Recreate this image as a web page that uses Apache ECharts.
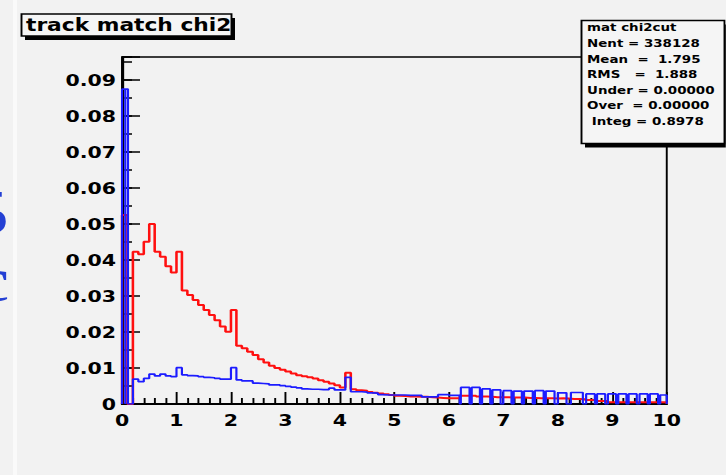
<!DOCTYPE html>
<html>
<head>
<meta charset="utf-8">
<script src="https://cdn.jsdelivr.net/npm/echarts@6/dist/echarts.min.js"></script>
<style>
  html, body { margin: 0; padding: 0; background: #f2f2f2; overflow: hidden; }
  #wrap { width: 726px; height: 475px; overflow: hidden; position: relative; background: #f2f2f2; }
  /* the ROOT canvas font is wide and blocky: the whole pad is stretched horizontally */
  #chart { width: 567.1875px; height: 475px; transform: scaleX(1.28); transform-origin: 0 0; }
</style>
</head>
<body>
<div id="wrap"><div id="chart"></div></div>
<script>
// ---- axis tick labels ----
const xTickLabels = ['0', '1', '2', '3', '4', '5', '6', '7', '8', '9', '10'];
const yTickLabels = ['0', '0.01', '0.02', '0.03', '0.04', '0.05', '0.06', '0.07', '0.08', '0.09'];

// ---- histogram contents ----
const binWidth = 0.1;

// red: 100 bins over [0, 10]
const redValues = [
  0.0525, 0.0000, 0.0423, 0.0416, 0.0451, 0.0500, 0.0423, 0.0409, 0.0383, 0.0365,
  0.0423, 0.0315, 0.0303, 0.0289, 0.0275, 0.0261, 0.0247, 0.0233, 0.0215, 0.0201,
  0.0261, 0.0162, 0.0155, 0.0145, 0.0136, 0.0124, 0.0115, 0.0106, 0.0100, 0.0095,
  0.0090, 0.0085, 0.0080, 0.0077, 0.0074, 0.0071, 0.0066, 0.0062, 0.0057, 0.0052,
  0.0046, 0.0087, 0.0041, 0.0038, 0.0037, 0.0033, 0.0031, 0.0029, 0.0027, 0.0025,
  0.0023, 0.0022, 0.0021, 0.0021, 0.0020, 0.0020, 0.0019, 0.0018, 0.0017, 0.0016,
  0.0016, 0.0016, 0.0023, 0.0023, 0.0023, 0.0021, 0.0021, 0.0020, 0.0019, 0.0019,
  0.0019, 0.0018, 0.0018, 0.0018, 0.0017, 0.0017, 0.0016, 0.0016, 0.0016, 0.0015,
  0.0016, 0.0015, 0.0014, 0.0014, 0.0013, 0.0011, 0.0011, 0.0008, 0.0008, 0.0005,
  0.0005, 0.0005, 0.0005, 0.0005, 0.0005, 0.0005, 0.0005, 0.0005, 0.0005, 0.0005
];

// blue: narrow spike bins at the origin, as [low, high, value]
const blueSpikeBins = [
  [0.00, 0.06, 0.0875],
  [0.06, 0.11, 0.0875]
];

// blue: regular bins from 0.1 to 6.2
const blueBodyStart = 0.1;
const blueBodyValues = [
  0.0000, 0.0069, 0.0062, 0.0071, 0.0083, 0.0078, 0.0083, 0.0078, 0.0076, 0.0101,
  0.0081, 0.0079, 0.0078, 0.0076, 0.0074, 0.0073, 0.0071, 0.0069, 0.0069, 0.0101,
  0.0067, 0.0064, 0.0064, 0.0058, 0.0057, 0.0056, 0.0053, 0.0053, 0.0051, 0.0049,
  0.0047, 0.0045, 0.0042, 0.0041, 0.0041, 0.0040, 0.0040, 0.0044, 0.0039, 0.0039,
  0.0074, 0.0034, 0.0034, 0.0033, 0.0031, 0.0030, 0.0026, 0.0025, 0.0025, 0.0025,
  0.0025, 0.0024, 0.0024, 0.0024, 0.0020, 0.0020, 0.0020, 0.0026, 0.0026, 0.0024,
  0.0024
];

// blue: separated bins of the tail, as [low, high, value]
const blueTailBins = [
  [6.22, 6.38, 0.0046], [6.42, 6.57, 0.0046], [6.61, 6.76, 0.0042], [6.80, 6.95, 0.0039],
  [7.00, 7.15, 0.0037], [7.19, 7.34, 0.0036], [7.38, 7.54, 0.0036], [7.58, 7.74, 0.0037],
  [7.78, 7.94, 0.0036], [8.00, 8.16, 0.0031], [8.24, 8.46, 0.0032], [8.52, 8.68, 0.0028],
  [8.72, 8.87, 0.0028], [8.92, 9.07, 0.0028], [9.11, 9.26, 0.0028], [9.30, 9.45, 0.0028],
  [9.50, 9.65, 0.0028], [9.69, 9.84, 0.0028], [9.88, 10.00, 0.0025]
];

// statistics box
const statsLines = [
  'mat chi2cut',
  'Nent = 338128',
  'Mean  =  1.795',
  'RMS   =  1.888',
  'Under = 0.00000',
  'Over  = 0.00000',
  ' Integ = 0.8978'
];
const titleText = 'track match chi2';

// ---- helpers: histogram outlines ----
const r2 = v => Math.round(v * 1000) / 1000;

function stepOutline(start, width, values) {
  const pts = [[r2(start), 0]];
  values.forEach((v, i) => {
    const lo = r2(start + i * width), hi = r2(start + (i + 1) * width);
    pts.push([lo, v], [hi, v]);
  });
  pts.push([r2(start + values.length * width), 0]);
  return pts;
}

function boxOutline(bins) {
  const pts = [];
  bins.forEach(([lo, hi, v]) => { pts.push([lo, 0], [lo, v], [hi, v], [hi, 0]); });
  return pts;
}

const redPoints = stepOutline(0, binWidth, redValues);
const bluePoints = [].concat(
  boxOutline(blueSpikeBins),
  stepOutline(blueBodyStart, binWidth, blueBodyValues),
  boxOutline(blueTailBins)
);

// ---- layout (pixels of the stretched pad) ----
const S = 1.28;
const px = x => x / S;
const FONT = 'DejaVu Sans';
const Y_MAX = 0.0964;

const chart = echarts.init(document.getElementById('chart'), null, { renderer: 'svg' });

const option = {
  backgroundColor: '#f2f2f2',
  animation: false,
  grid: {
    left: px(122), right: px(59), top: 57, bottom: 71,
    show: true, backgroundColor: '#f2f2f2', borderColor: '#000', borderWidth: 1.5
  },
  xAxis: {
    type: 'value', min: 0, max: 10, interval: 1,
    axisLine: { lineStyle: { color: '#000', width: 2 } },
    axisTick: { inside: true, length: 12, lineStyle: { color: '#000', width: 1.5 } },
    minorTick: { show: true, splitNumber: 5, length: 6, lineStyle: { color: '#000', width: 1.5 } },
    splitLine: { show: false },
    axisLabel: {
      margin: 8, color: '#000', fontFamily: FONT, fontWeight: 'bold', fontSize: 16,
      formatter: v => xTickLabels[Math.round(v)] ?? ''
    }
  },
  yAxis: [
    {
      type: 'value', min: 0, max: Y_MAX, interval: 0.01,
      axisLine: { lineStyle: { color: '#000', width: 2 } },
      axisTick: { inside: true, length: px(18), lineStyle: { color: '#000', width: 1.5 } },
      splitLine: { show: false },
      axisLabel: {
        margin: px(6), color: '#000', fontFamily: FONT, fontWeight: 'bold', fontSize: 16,
        formatter: v => {
          const k = Math.round(v * 100);
          return Math.abs(v * 100 - k) < 1e-6 ? (yTickLabels[k] ?? '') : '';
        }
      }
    },
    {
      // half-step ticks
      type: 'value', min: 0, max: Y_MAX, interval: 0.005, position: 'left',
      axisLine: { show: false },
      axisTick: { inside: true, length: px(10), lineStyle: { color: '#000', width: 1.5 } },
      axisLabel: { show: false },
      splitLine: { show: false }
    }
  ],
  series: [
    {
      name: 'red', type: 'line', data: redPoints, yAxisIndex: 0,
      symbol: 'none', lineStyle: { color: '#ff1010', width: 2 }, z: 3
    },
    {
      name: 'blue', type: 'line', data: bluePoints, yAxisIndex: 0,
      symbol: 'none', lineStyle: { color: '#1c1cff', width: 1.7 }, z: 4
    }
  ],
  graphic: [
    // light band near the left edge
    { type: 'rect', z: 100, shape: { x: px(13), y: 0, width: px(4), height: 475 }, style: { fill: '#fafafa' } },
    // glyphs of the slide behind the pad
    { type: 'text', z: 100, x: px(9), y: 213,
      style: { text: '5', font: '64px "Liberation Serif"', fill: '#2440d4', align: 'right', verticalAlign: 'middle' } },
    { type: 'text', z: 100, x: px(9.5), y: 280,
      style: { text: 'c', font: '64px "Liberation Serif"', fill: '#2440d4', align: 'right', verticalAlign: 'middle' } },
    // title box
    { type: 'rect', z: 100, shape: { x: px(25), y: 18, width: px(210), height: 22 }, style: { fill: '#000' } },
    { type: 'rect', z: 101, shape: { x: px(21.5), y: 14, width: px(210), height: 22 },
      style: { fill: '#f5f5f5', stroke: '#000', lineWidth: 1.5 } },
    { type: 'text', z: 102, x: px(26), y: 25.5,
      style: { text: titleText, font: 'bold 17px "DejaVu Sans"', fill: '#000', align: 'left', verticalAlign: 'middle' } },
    // statistics box
    { type: 'rect', z: 100, shape: { x: px(585), y: 24.5, width: px(145), height: 123 }, style: { fill: '#000' } },
    { type: 'rect', z: 101, shape: { x: px(581.5), y: 20.5, width: px(143), height: 123 },
      style: { fill: '#f5f5f5', stroke: '#000', lineWidth: 1.5 } }
  ].concat(statsLines.map((t, i) => ({
    type: 'text', z: 102, x: px(587), y: 28 + i * 15.6,
    style: { text: t, font: 'bold 10.5px "DejaVu Sans"', fill: '#000', align: 'left', verticalAlign: 'middle' }
  })))
};

chart.setOption(option);
</script>
</body>
</html>
